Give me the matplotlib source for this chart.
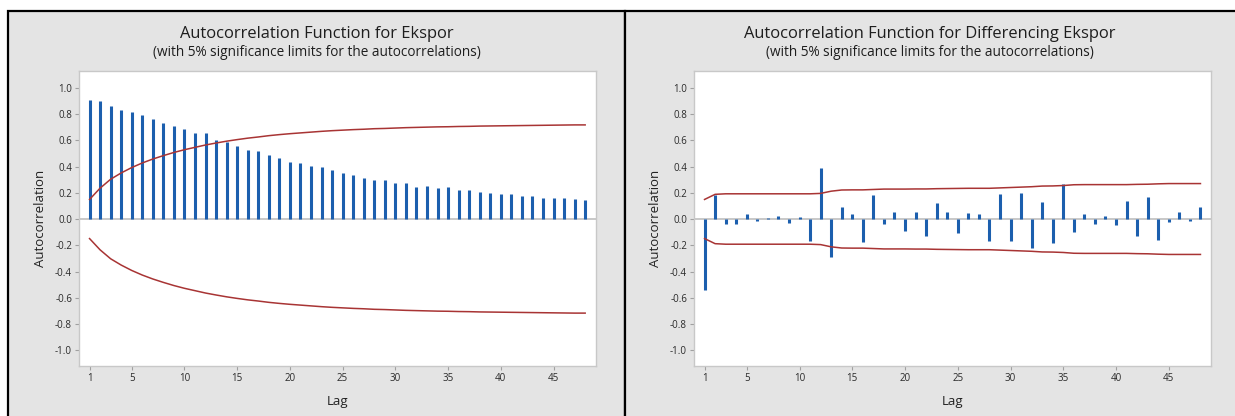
import matplotlib
matplotlib.use("Agg")
import matplotlib.pyplot as plt
from matplotlib.patches import Rectangle

plt.rcParams['font.family'] = ['Open Sans', 'DejaVu Sans']

# ---- data ----
lags = list(range(1, 49))

acf_ekspor = [0.909, 0.896, 0.863, 0.833, 0.815, 0.790, 0.760, 0.732, 0.709, 0.684,
              0.656, 0.653, 0.603, 0.587, 0.557, 0.527, 0.519, 0.491, 0.466, 0.438,
              0.430, 0.403, 0.395, 0.377, 0.349, 0.332, 0.316, 0.294, 0.294, 0.273,
              0.271, 0.246, 0.251, 0.238, 0.246, 0.223, 0.218, 0.205, 0.197, 0.187,
              0.187, 0.177, 0.175, 0.157, 0.162, 0.162, 0.152, 0.142]

limit_ekspor = [0.149, 0.235, 0.303, 0.351, 0.392, 0.427, 0.457, 0.483, 0.507, 0.528,
                0.546, 0.564, 0.579, 0.593, 0.605, 0.616, 0.625, 0.635, 0.643, 0.650,
                0.656, 0.662, 0.668, 0.673, 0.677, 0.681, 0.684, 0.688, 0.690, 0.693,
                0.696, 0.698, 0.700, 0.702, 0.703, 0.705, 0.706, 0.708, 0.709, 0.710,
                0.711, 0.712, 0.713, 0.714, 0.715, 0.716, 0.717, 0.717]

acf_diff = [-0.542, 0.180, -0.035, -0.035, 0.040, -0.013, 0.004, 0.020, -0.030, 0.018,
            -0.167, 0.390, -0.289, 0.094, 0.040, -0.172, 0.185, -0.038, 0.051, -0.089,
            0.056, -0.129, 0.119, 0.056, -0.105, 0.043, 0.040, -0.165, 0.192, -0.170,
            0.200, -0.218, 0.132, -0.180, 0.266, -0.096, 0.040, -0.040, 0.023, -0.046,
            0.137, -0.127, 0.167, -0.157, -0.020, 0.051, -0.018, 0.091]

limit_diff = [0.149, 0.188, 0.192, 0.192, 0.192, 0.192, 0.192, 0.192, 0.192, 0.192,
              0.192, 0.195, 0.212, 0.221, 0.222, 0.222, 0.225, 0.228, 0.228, 0.228,
              0.229, 0.229, 0.231, 0.232, 0.233, 0.234, 0.234, 0.234, 0.237, 0.240,
              0.243, 0.246, 0.251, 0.252, 0.255, 0.261, 0.262, 0.262, 0.262, 0.262,
              0.262, 0.264, 0.265, 0.268, 0.270, 0.270, 0.270, 0.270]

titles = ["Autocorrelation Function for Ekspor",
          "Autocorrelation Function for Differencing Ekspor"]
subtitle = "(with 5% significance limits for the autocorrelations)"
xticks = [1, 5, 10, 15, 20, 25, 30, 35, 40, 45]
yticks = [-1.0, -0.8, -0.6, -0.4, -0.2, 0.0, 0.2, 0.4, 0.6, 0.8, 1.0]

# ---- figure ----
W, H = 1235, 416
fig = plt.figure(figsize=(W / 100, H / 100), dpi=100)
fig.patch.set_facecolor('white')

def px(x, y):
    return x / W, 1 - y / H

panel_bg = '#e4e4e4'
for (x0, x1) in [(8, 625), (625, 1245)]:
    fx0, fy0 = px(x0, 430)
    fx1, fy1 = px(x1, 11)
    fig.patches.append(Rectangle((fx0, fy0), fx1 - fx0, fy1 - fy0,
                                 transform=fig.transFigure, facecolor=panel_bg,
                                 edgecolor='black', linewidth=1.6, zorder=-5))

bar_color = '#1c5fae'
lim_color = '#a83434'

axes_px = [(79, 595.7, 70.7, 366), (694, 1211, 70.7, 366)]
panel_centers = [316.5, 930]
datasets = [(acf_ekspor, limit_ekspor), (acf_diff, limit_diff)]

for i in range(2):
    l, r, t, b = axes_px[i]
    ax = fig.add_axes([l / W, 1 - b / H, (r - l) / W, (b - t) / H])
    ax.set_zorder(5)
    ax.set_facecolor('white')
    vals, lim = datasets[i]
    ax.axhline(0, color='#c4c4c4', linewidth=1.3, zorder=1)
    ax.vlines(lags, 0, vals, color=bar_color, linewidth=2.2, zorder=3)
    ax.plot(lags, lim, color=lim_color, linewidth=1.1, zorder=4)
    ax.plot(lags, [-v for v in lim], color=lim_color, linewidth=1.1, zorder=4)
    ax.set_xlim(0, 49)
    ax.set_ylim(-1.12, 1.13)
    ax.set_xticks(xticks)
    ax.set_yticks(yticks)
    ax.set_yticklabels([f"{v:.1f}" for v in yticks])
    for s in ax.spines.values():
        s.set_color('#c8c8c8')
        s.set_linewidth(1.0)
    ax.tick_params(axis='both', colors='#a0a0a0', labelcolor='#2a2a2a',
                   labelsize=7, length=3, width=0.8, pad=2)
    ax.set_xlabel("Lag", fontsize=9.5, color='#222222', labelpad=8)
    ax.set_ylabel("Autocorrelation", fontsize=9.5, color='#222222', labelpad=6)
    cx = panel_centers[i] / W
    fig.text(cx, 1 - 33.5 / H, titles[i], ha='center', va='center',
             fontsize=11.9, color='#1e1e1e')
    fig.text(cx, 1 - 52.5 / H, subtitle, ha='center', va='center',
             fontsize=9.8, color='#1e1e1e')

fig.savefig('out.png', dpi=100, facecolor='white')
